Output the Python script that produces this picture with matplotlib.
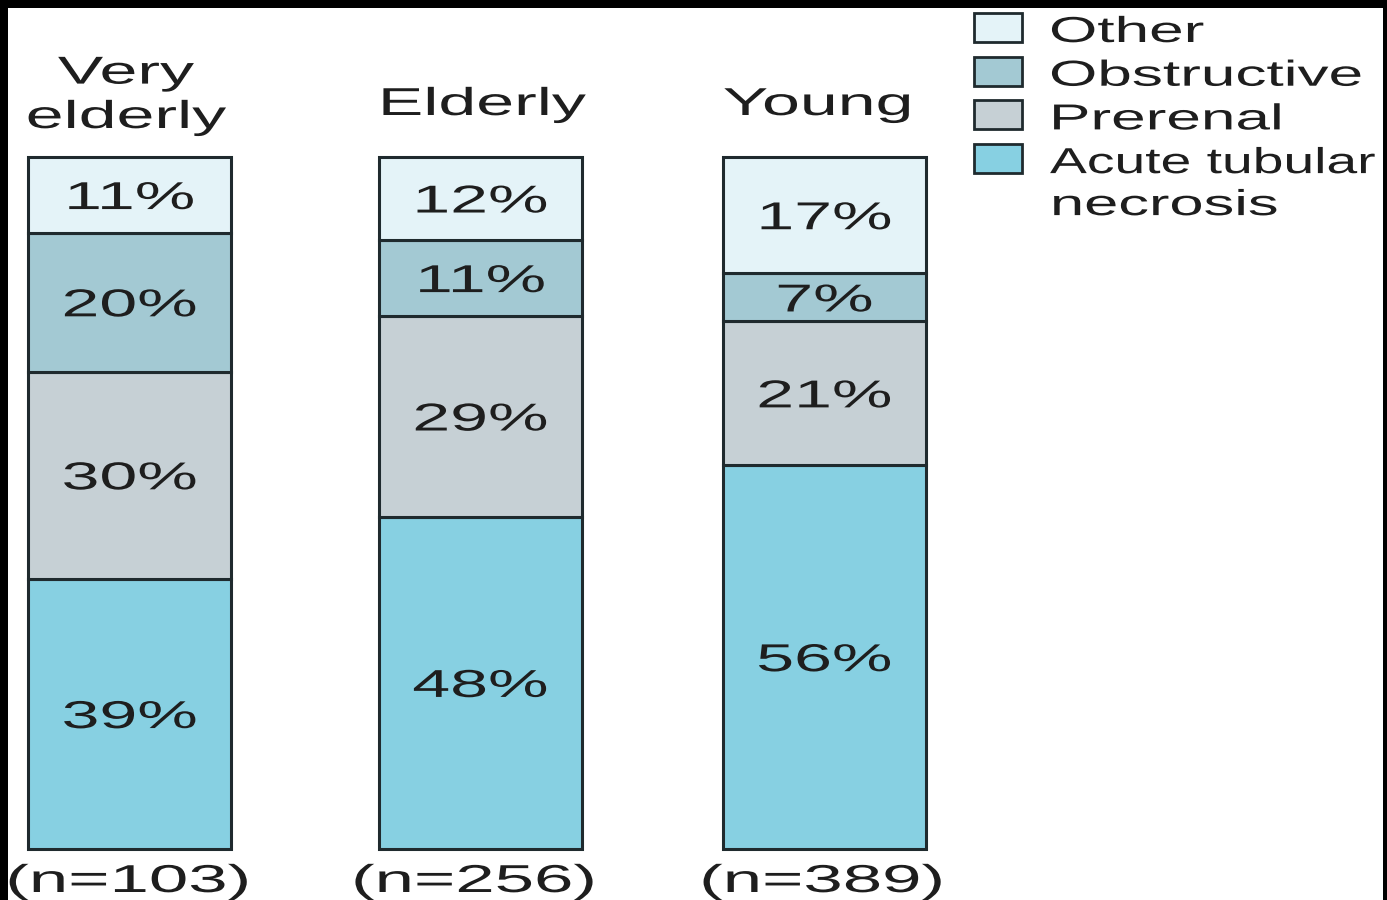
import matplotlib
matplotlib.use("Agg")
import matplotlib.pyplot as plt
from matplotlib.patches import Rectangle
from matplotlib.patheffects import AbstractPathEffect
from matplotlib.transforms import Affine2D
import numpy as np

# data
groups = ['Very\nelderly', 'Elderly', 'Young']
n_values = [103, 256, 389]
atn = [39, 48, 56]
prerenal = [30, 29, 21]
obstructive = [20, 11, 7]
other = [11, 12, 17]

series = [atn, prerenal, obstructive, other]   # bottom to top
series_names = ['Acute tubular\nnecrosis', 'Prerenal', 'Obstructive', 'Other']
colors = ['#87d0e2', '#c6d0d5', '#a3c9d3', '#e4f3f8']
edge = '#1f2a2e'
txt_color = '#1e1e1e'

W, H = 1387, 900
plt.rcParams['font.family'] = ['Liberation Sans', 'DejaVu Sans']


class Stretch(AbstractPathEffect):
    """ Widen glyphs horizontally around the text anchor (the original art is stretched). """
    def __init__(self, sx):
        super().__init__()
        self.sx = sx
        self.text = None

    def draw_path(self, renderer, gc, tpath, affine, rgbFace=None):
        cx = self.text.get_transform().transform(self.text.get_position())[0]
        affine = affine + Affine2D().translate(-cx, 0).scale(self.sx, 1).translate(cx, 0)
        renderer.draw_path(gc, tpath, affine, rgbFace)


def px(x, y):
    return x / W, 1 - y / H


def add_stretch(t, sx):
    eff = Stretch(sx)
    t.set_path_effects([eff])
    eff.text = t
    return t


def stext(x, y, s, size, sx=1.75, **kw):
    t = fig.text(*px(x, y), s, fontsize=size, color=txt_color, **kw)
    return add_stretch(t, sx)


fig = plt.figure(figsize=(W / 100, H / 100), dpi=100, facecolor='black')
fig.add_artist(Rectangle(px(8, 900), (1383 - 8) / W, (900 - 8) / H,
                         transform=fig.transFigure, facecolor='white', edgecolor='none', zorder=0))

bar_w = 203 / 347
ax = fig.add_axes([28 / W, 51 / H, 898 / W, 692 / H])
ax.set_facecolor('none')
ax.set_xlim(-bar_w / 2, 2 + bar_w / 2)
ax.set_ylim(0, 100)
ax.axis('off')

x = np.array([0, 1.01, 2])
totals = np.sum(series, axis=0)
bottom = np.zeros(len(groups))
for vals, col in zip(series, colors):
    h = np.array(vals) / totals * 100
    ax.bar(x, h, width=bar_w, bottom=bottom, color=col, edgecolor=edge, linewidth=2.2, clip_on=False)
    for xi, b, hi, v in zip(x, bottom, h, vals):
        t = ax.text(xi, b + hi / 2, f'{v}%', ha='center', va='center_baseline', fontsize=28,
                    color=txt_color)
        add_stretch(t, 1.75)
    bottom += h

# group titles and sample sizes
title_pos = [(126, 128), (482, 115), (818, 115)]
n_pos = [128, 474, 822]
for (tx, ty), g in zip(title_pos, groups):
    stext(tx, ty, g, 28, ha='center', va='baseline', multialignment='center', linespacing=1.3)
for nx, n in zip(n_pos, n_values):
    stext(nx, 892, f'(n={n})', 28, sx=1.82, ha='center', va='baseline')

# legend, top to bottom
for i, (name, col) in enumerate(zip(series_names[::-1], colors[::-1])):
    base = 42 + i * 43.7
    fig.add_artist(Rectangle(px(974, base), 48 / W, 29 / H, transform=fig.transFigure,
                             facecolor=col, edgecolor=edge, linewidth=2))
    if '\n' in name:
        first, second = name.split('\n')
        stext(1050, base, first, 26, sx=1.53, ha='left', va='baseline')
        stext(1050, base + 42, second, 26, sx=1.7, ha='left', va='baseline')
    else:
        stext(1049, base, name, 26, sx=1.72, ha='left', va='baseline')

fig.savefig('out.png', dpi=100, facecolor=fig.get_facecolor())
